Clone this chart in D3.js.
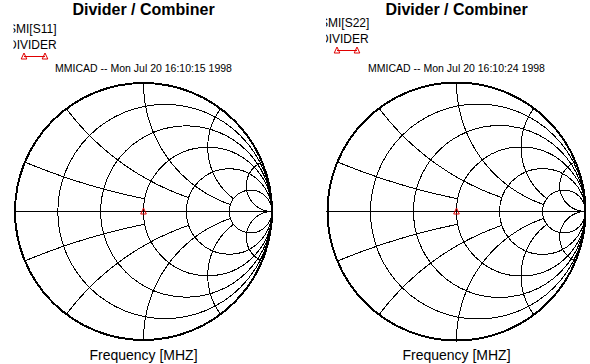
<!DOCTYPE html>
<html><head><meta charset="utf-8">
<script src="https://cdn.jsdelivr.net/npm/d3@7"></script>
<style>body{margin:0;background:#fff}svg{display:block}</style>
</head><body>
<svg id="c" width="590" height="364"></svg>
<script>
// ---- data ----
const titles = ["Divider / Combiner", "Divider / Combiner"];
const traceNames = ["SMI[S11]", "SMI[S22]"];
const circuitNames = ["DIVIDER", "DIVIDER"];
const stamps = ["MMICAD -- Mon Jul 20 16:10:15 1998", "MMICAD -- Mon Jul 20 16:10:24 1998"];
const axisLabel = "Frequency [MHZ]";
const resistances = [0.2, 0.5, 1, 2, 5];
const reactances = [0.2, 0.5, 1, 2, 5];
const reactanceLimits = [1, 2, 5, 5, Infinity]; // r at which each reactance arc stops
const s11Re = [0], s11Im = [0];
const s22Re = [0], s22Im = [0];

// ---- layout ----
const panels = [
  {cx:143.5, cy:211.5, R:128.5, clipX:13.5, textX:8, leg1:33, leg2:49, legY:56.5, legX1:24, legX2:45, re:s11Re, im:s11Im},
  {cx:456.5, cy:211.5, R:129, clipX:326, textX:320, leg1:27, leg2:43, legY:50.5, legX1:337, legX2:357, re:s22Re, im:s22Im}
];
const svg = d3.select("#c");
const font = "Liberation Sans, Arial, sans-serif";
const tri = "M0,-3.5L2.8,2.5L-2.8,2.5Z";

function gamma(r, x){ // z -> reflection coefficient
  const dr = r + 1, den = dr*dr + x*x;
  return [((r-1)*(r+1) + x*x)/den, (2*x)/den];
}

panels.forEach((p, i) => {
  const sx = d3.scaleLinear().domain([-1, 1]).range([p.cx - p.R, p.cx + p.R]);
  const sy = d3.scaleLinear().domain([-1, 1]).range([p.cy + p.R, p.cy - p.R]);
  const g = svg.append("g");
  const grid = g.append("g").attr("shape-rendering", "crispEdges");
  const line = d3.line().x(d => sx(d[0])).y(d => sy(d[1]));

  // resistance circles
  grid.selectAll("circle.r").data(resistances).join("circle")
    .attr("cx", r => sx(r/(r+1))).attr("cy", sy(0))
    .attr("r", r => sx(1/(r+1)) - sx(0))
    .attr("fill", "none").attr("stroke", "#000").attr("stroke-width", 1);

  // reactance arcs
  reactances.forEach((x, k) => {
    const lim = reactanceLimits[k];
    const tMax = isFinite(lim) ? Math.atan(lim) : Math.PI/2;
    [x, -x].forEach(xx => {
      const pts = d3.range(0, 401).map(j => {
        const t = tMax * j/400;
        if (!isFinite(lim) && j === 400) return [1, 0];
        return gamma(Math.tan(t), xx);
      });
      grid.append("path").attr("d", line(pts)).attr("fill", "none")
        .attr("stroke", "#000").attr("stroke-width", 1);
    });
  });

  // real axis
  grid.append("line").attr("x1", sx(-1)).attr("x2", sx(1)).attr("y1", sy(0)).attr("y2", sy(0))
    .attr("stroke", "#000").attr("stroke-width", 1.2);
  // outer circle
  grid.append("circle").attr("cx", sx(0)).attr("cy", sy(0)).attr("r", sx(1) - sx(0))
    .attr("fill", "none").attr("stroke", "#000").attr("stroke-width", 2);

  // trace markers
  const pts = p.re.map((v, j) => [v, p.im[j]]);
  g.append("path").attr("d", line(pts)).attr("fill", "none").attr("stroke", "#e00000");
  g.selectAll("path.m").data(pts).join("path").attr("class", "m")
    .attr("transform", d => `translate(${sx(d[0])},${sy(d[1])})`)
    .attr("d", tri).attr("fill", "none").attr("stroke", "#e00000").attr("stroke-width", 1);

  // titles and texts
  g.append("text").attr("x", p.cx).attr("y", 15).attr("text-anchor", "middle")
    .attr("font-family", font).attr("font-weight", "bold").attr("font-size", 16).text(titles[i]);
  g.append("text").attr("x", p.cx).attr("y", 72).attr("text-anchor", "middle")
    .attr("font-family", font).attr("font-size", 10.5).text(stamps[i]);
  g.append("text").attr("x", p.cx).attr("y", 360).attr("text-anchor", "middle")
    .attr("font-family", font).attr("font-size", 14).text(axisLabel);

  // legend (clipped on the left)
  const cid = "clip" + i;
  svg.append("clipPath").attr("id", cid).append("rect")
    .attr("x", p.clipX).attr("y", 0).attr("width", 200).attr("height", 80);
  const lg = g.append("g").attr("clip-path", `url(#${cid})`);
  lg.append("text").attr("x", p.textX).attr("y", p.leg1).attr("font-family", font).attr("font-size", 12).text(traceNames[i]);
  lg.append("text").attr("x", p.textX).attr("y", p.leg2).attr("font-family", font).attr("font-size", 12).text(circuitNames[i]);
  lg.append("line").attr("x1", p.legX1).attr("x2", p.legX2).attr("y1", p.legY).attr("y2", p.legY)
    .attr("stroke", "#e00000").attr("stroke-width", 1);
  [p.legX1, p.legX2].forEach(lx => {
    lg.append("path").attr("transform", `translate(${lx},${p.legY})`).attr("d", tri)
      .attr("fill", "none").attr("stroke", "#e00000").attr("stroke-width", 1);
  });
});
</script>
</body></html>
